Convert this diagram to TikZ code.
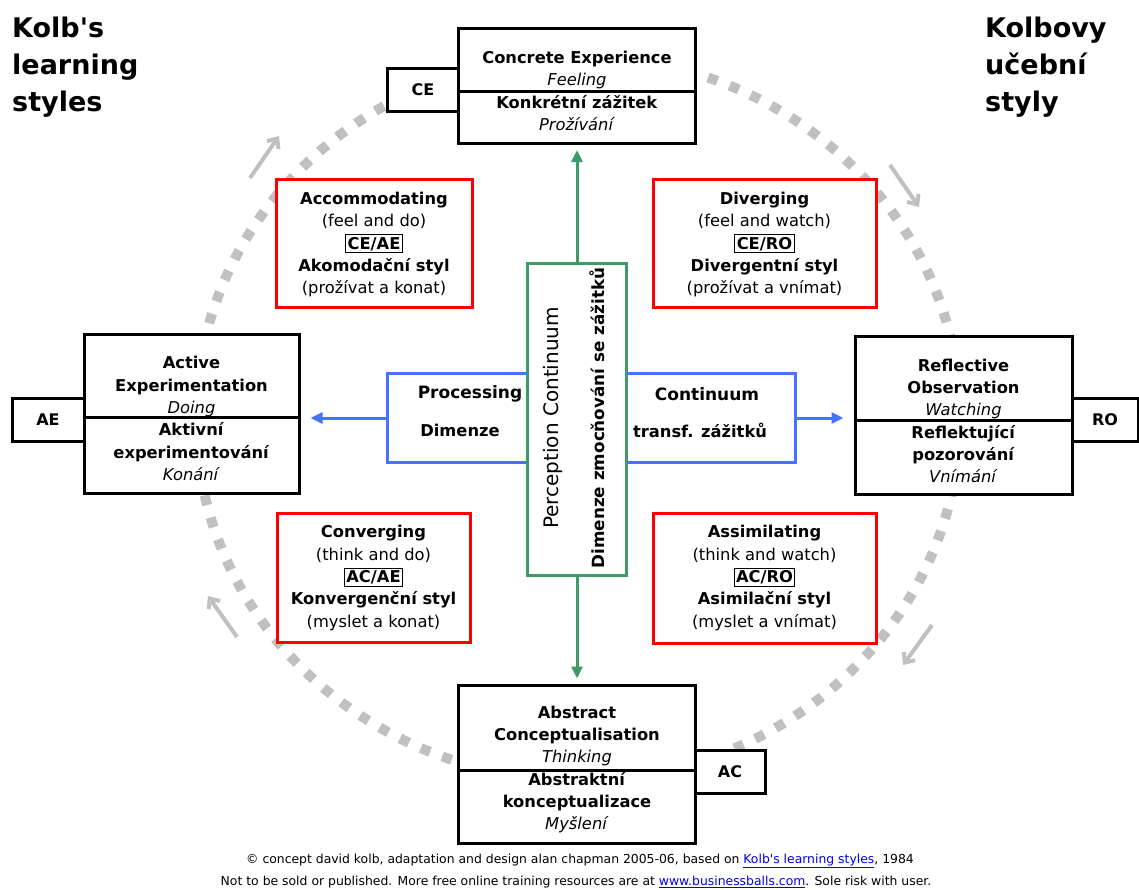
\documentclass[tikz,border=0pt]{standalone}
\usepackage{fontspec}
\setmainfont{DejaVu Sans}[Ligatures=TeXOff]
\usetikzlibrary{arrows.meta}
\definecolor{kred}{RGB}{255,0,0}
\definecolor{kblue}{RGB}{70,115,255}
\definecolor{kgreen}{RGB}{60,155,105}
\definecolor{kgray}{RGB}{192,192,192}
\definecolor{klink}{RGB}{0,0,230}
\newcommand\tagbox[1]{{\setlength{\fboxsep}{1.5pt}\setlength{\fboxrule}{1pt}\smash{\fbox{#1}}}}
\begin{document}
\begin{tikzpicture}[x=1pt,y=-1pt,
  kbox/.style={draw=black, line width=3pt, fill=white, inner sep=0pt},
  rbox/.style={draw=kred, line width=3pt, fill=white, inner sep=0pt},
  btxt/.style={align=center, inner sep=0pt, font=\fontsize{16.3}{22.3}\selectfont},
  tabtxt/.style={font=\fontsize{16}{18}\selectfont\bfseries},
  title/.style={align=left, anchor=north west, inner sep=0pt, font=\fontsize{27}{37}\selectfont\bfseries},
  foot/.style={inner sep=0pt, font=\fontsize{12.4}{14}\selectfont},
  garrow/.style={draw=kgray, line width=4pt, -{Straight Barb[length=8pt,width=14pt]}},
  varrow/.style={draw=kgreen, line width=3pt, -{Triangle[length=12pt,width=11pt]}},
  harrow/.style={draw=kblue, line width=3pt, -{Triangle[length=12pt,width=11pt]}},
]
\useasboundingbox (0,0) rectangle (1139,889);

% dotted cycle
\draw[kgray, line width=10pt, dash pattern=on 10pt off 13pt] (578,418) ellipse [x radius=382, y radius=362];

% cycle direction arrows
\coordinate (g1a) at (250,178); \coordinate (g1b) at (279,136);
\coordinate (g2a) at (890,165); \coordinate (g2b) at (919,207);
\coordinate (g3a) at (932,625); \coordinate (g3b) at (903,665);
\coordinate (g4a) at (237,637); \coordinate (g4b) at (208,596);
\draw[garrow] (g1a) -- (g1b);
\draw[garrow] (g2a) -- (g2b);
\draw[garrow] (g3a) -- (g3b);
\draw[garrow] (g4a) -- (g4b);

% titles
\node[title] (tl) at (12,17) {Kolb's\\learning\\styles};
\node[title] (tr) at (985,17) {Kolbovy\\učební\\styly};

% blue processing box
\node[draw=kblue, line width=3pt, fill=white, minimum width=408pt, minimum height=89pt, inner sep=0pt] (blue) at (591,418) {};

% four pole boxes
\node[kbox, minimum width=237pt, minimum height=115pt] (ce) at (577,86) {};
\node[kbox, minimum width=71pt, minimum height=43pt] (cetab) at (423,90) {};
\node[tabtxt] (cetabt) at (cetab) {CE};
\draw[line width=3pt] (ce.west |- 0,91) -- (ce.east |- 0,91);
\node[btxt] (cet) at (577,91) {\textbf{Concrete Experience}\\\textit{Feeling}\\\textbf{Konkrétní zážitek}\\\textit{Prožívání}};

\node[kbox, minimum width=215pt, minimum height=159pt] (ae) at (191.5,413.5) {};
\node[kbox, minimum width=72pt, minimum height=43pt] (aetab) at (48,419.5) {};
\node[tabtxt] (aetabt) at (aetab) {AE};
\draw[line width=3pt] (ae.west |- 0,417) -- (ae.east |- 0,417);
\node[btxt] (aet) at (191.5,418.5) {\textbf{Active}\\\textbf{Experimentation}\\\textit{Doing}\\\textbf{Aktivní}\\\textbf{experimentování}\\\textit{Konání}};

\node[kbox, minimum width=217pt, minimum height=158pt] (ro) at (963.5,415) {};
\node[kbox, minimum width=66pt, minimum height=43pt] (rotab) at (1105,419.5) {};
\node[tabtxt] (rotabt) at (rotab) {RO};
\draw[line width=3pt] (ro.west |- 0,420) -- (ro.east |- 0,420);
\node[btxt] (rot) at (963.5,421) {\textbf{Reflective}\\\textbf{Observation}\\\textit{Watching}\\\textbf{Reflektující}\\\textbf{pozorování}\\\textit{Vnímání}};

\node[kbox, minimum width=237pt, minimum height=158pt] (ac) at (577,764) {};
\node[kbox, minimum width=70pt, minimum height=43pt] (actab) at (730,771.5) {};
\node[tabtxt] (actabt) at (actab) {AC};
\draw[line width=3pt] (ac.west |- 0,770) -- (ac.east |- 0,770);
\node[btxt] (act) at (577,769.5) {\textbf{Abstract}\\\textbf{Conceptualisation}\\\textit{Thinking}\\\textbf{Abstraktní}\\\textbf{konceptualizace}\\\textit{Myšlení}};

% four style boxes
\node[rbox, minimum width=196pt, minimum height=128pt] (accb) at (374,243) {};
\node[btxt] (acct) at (374,244.5) {\textbf{Accommodating}\\(feel and do)\\\tagbox{\textbf{CE/AE}}\\\textbf{Akomodační styl}\\(prožívat a konat)};
\node[rbox, minimum width=223pt, minimum height=128pt] (divb) at (764.5,243) {};
\node[btxt] (divt) at (764.5,244.5) {\textbf{Diverging}\\(feel and watch)\\\tagbox{\textbf{CE/RO}}\\\textbf{Divergentní styl}\\(prožívat a vnímat)};
\node[rbox, minimum width=193pt, minimum height=129pt] (conb) at (373.5,577.5) {};
\node[btxt] (cont) at (373.5,578) {\textbf{Converging}\\(think and do)\\\tagbox{\textbf{AC/AE}}\\\textbf{Konvergenční styl}\\(myslet a konat)};
\node[rbox, minimum width=223pt, minimum height=130pt] (assb) at (764.5,578) {};
\node[btxt] (asst) at (764.5,578) {\textbf{Assimilating}\\(think and watch)\\\tagbox{\textbf{AC/RO}}\\\textbf{Asimilační styl}\\(myslet a vnímat)};

% green perception box
\node[draw=kgreen, line width=3pt, fill=white, minimum width=99pt, minimum height=312pt, inner sep=0pt] (green) at (577,419.5) {};
\node[rotate=90, inner sep=0pt, font=\fontsize{20}{22}\selectfont] (pc) at (553,418) {Perception Continuum};
\node[rotate=90, inner sep=0pt, font=\fontsize{16.8}{19}\selectfont\bfseries] (dz) at (597,418) {Dimenze zmocňování se zážitků};

% blue labels
\node[btxt, font=\fontsize{17}{19}\selectfont\bfseries] (pl) at (470,394) {Processing};
\node[btxt, font=\fontsize{16.3}{19}\selectfont\bfseries] (dl) at (460,430) {Dimenze};
\node[btxt, font=\fontsize{17}{19}\selectfont\bfseries] (cl) at (707,394) {Continuum};
\node[btxt, font=\fontsize{16.3}{19}\selectfont\bfseries] (tz) at (700,430) {transf. zážitků};

% axis arrows
\draw[varrow, shorten >=5pt] (green.north) -- (ce.south);
\draw[varrow, shorten >=5pt] (green.south) -- (ac.north);
\draw[harrow, shorten >=10pt] (blue.west) -- (blue.west -| ae.east);
\draw[harrow, shorten >=10pt] (blue.east) -- (blue.east -| ro.west);

% footer
\node[foot] (f1) at (580,861) {© concept david kolb, adaptation and design alan chapman 2005-06, based on \textcolor{klink}{\underline{Kolb's learning styles}}, 1984};
\node[foot] (f2) at (576,882) {Not to be sold or published. More free online training resources are at \textcolor{klink}{\underline{www.businessballs.com}}. Sole risk with user.};
\end{tikzpicture}
\end{document}
